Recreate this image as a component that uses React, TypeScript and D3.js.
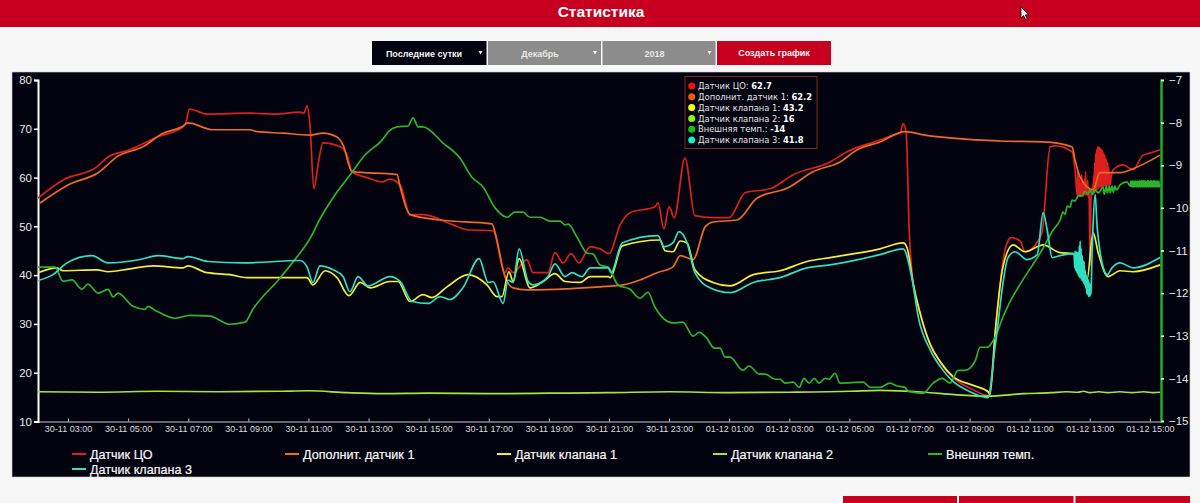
import * as d3 from 'd3';
import React, { useEffect, useRef } from 'react';

// hours since 30-11 00:00, value
const sensorCO: [number, number][] = [
	[2, 55.8], [2.83, 59.5], [3.96, 62.2], [4.33, 64.2], [5.06, 65.7], [5.96, 68.3], [6.83, 70.4], [6.93, 71.4], [7.03, 74], [7.16, 73.9],
	[7.62, 73], [9.05, 73.2], [9.89, 73], [10.72, 73.4], [10.85, 73.2], [10.95, 74.7], [11.05, 70.8], [11.18, 57.7], [11.32, 62.6], [11.48, 67.1],
	[12.12, 66.1], [12.28, 64.6], [12.45, 61.2], [12.95, 60], [13.45, 59.1], [13.71, 59.7], [14.05, 58.5], [14.38, 52.4], [14.81, 52.4], [15.81, 50.3],
	[16.28, 49.3], [17.14, 49.1], [17.54, 40.5], [17.64, 41.5], [17.81, 40.5], [18.27, 43.2], [18.47, 40.5], [18.97, 40.5], [19.2, 44.6], [19.47, 42.5],
	[19.74, 44.4], [20, 42.5], [20.37, 45.8], [20.7, 45.4], [21, 44.4], [21.37, 50.3], [21.7, 52.8], [22.53, 54], [22.63, 54.8], [22.83, 49.5],
	[23, 54], [23.17, 51.8], [23.53, 64], [23.86, 52.2], [24.46, 51.8], [25, 51.8], [25.53, 56.9], [26.36, 57.7], [27.13, 60.6], [28.36, 63.2],
	[28.92, 65.3], [30.02, 67.7], [30.45, 68.7], [30.69, 69.2], [30.79, 71], [30.89, 69.2], [30.99, 49.3], [31.12, 38.4], [31.35, 32.3], [31.69, 25.8],
	[32.02, 22.1], [32.45, 19], [33.12, 16.5], [33.62, 15.3], [33.92, 32.3], [34.18, 45.2], [34.38, 47.7], [34.68, 47], [34.85, 44.8], [35.18, 46.2],
	[35.41, 48.7], [35.68, 66.3], [35.85, 66.5], [36.41, 65.3], [36.51, 61.6],
	[36.58, 56.5], [36.6, 61.4], [36.61, 56.2], [36.63, 60.5], [36.65, 56.2], [36.66, 59.6], [36.68, 56.2], [36.7, 58.8], [36.71, 56.2], [36.73, 60.6],
	[36.75, 56.2], [36.76, 59.5], [36.78, 56.2], [36.8, 58.5], [36.81, 56.4], [36.83, 59.8], [36.85, 56.4], [36.86, 61.2], [36.88, 56.5], [36.9, 59],
	[36.91, 56.5], [36.93, 59.5], [36.95, 56], [36.96, 58], [36.98, 55.8], [37.01, 41.9], [37.04, 56.2], [37.06, 57.5], [37.08, 56.5], [37.1, 58.5],
	[37.11, 56.5], [37.13, 60.5], [37.15, 56.8], [37.16, 63], [37.18, 57], [37.2, 65], [37.21, 57.2], [37.23, 65.8], [37.25, 57.5], [37.26, 66.3],
	[37.28, 57.7], [37.3, 66.4], [37.31, 58], [37.33, 66.2], [37.35, 58], [37.36, 66], [37.38, 58], [37.4, 65.8], [37.41, 58.2], [37.43, 65.5],
	[37.45, 58.2], [37.46, 65], [37.48, 58.2], [37.5, 64.6], [37.51, 58.3], [37.53, 64], [37.55, 58.3], [37.56, 63.6], [37.58, 58.3], [37.6, 63],
	[37.61, 58.4], [37.63, 62], [37.65, 58.5], [37.66, 61], [37.68, 58.6], [37.71, 60],
	[37.78, 61.6], [38.11, 62.6], [38.44, 61.6], [38.77, 64.6], [39, 65], [39.34, 65.7],
];

const sensorExtra: [number, number][] = [
	[2.07, 54.8], [3, 58.5], [4, 61], [4.66, 64.4], [5.49, 66.3], [6.16, 69.1], [6.79, 70.4], [6.99, 71.2], [7.82, 69.8], [9.05, 69.8],
	[9.29, 69.4], [10.15, 69.1], [11.05, 68.7], [11.48, 69.1], [11.95, 68.3], [12.15, 66.7], [12.45, 61.2], [13.95, 60.6], [14.05, 58.1], [14.38, 52.4],
	[15.38, 51.3], [17.11, 50.5], [17.21, 48.7], [17.54, 39.7], [17.81, 37.4], [18.27, 37], [19.6, 37.2], [20.7, 37.6], [21.47, 38], [22.03, 39],
	[22.6, 40.5], [23.13, 41.7], [23.37, 44], [23.8, 43.2], [24.2, 49.9], [24.46, 50.9], [25.26, 51.3], [25.93, 55.8], [26.96, 57.9], [27.79, 61.2],
	[28.69, 63.2], [29.26, 65.7], [30.02, 67.3], [30.85, 69.4], [31.52, 68.7], [34.02, 67.5], [35.45, 67.3], [36.41, 66.3], [36.51, 63.6], [36.68, 60.1],
	[37.11, 57.5], [37.34, 61], [38.01, 61], [38.44, 61.8], [39.34, 64.6],
];

const valve1: [number, number][] = [
	[2, 40.5], [2.63, 41.5], [2.83, 40.9], [3.96, 41.1], [4.33, 40.7], [5.06, 41.3], [5.83, 41.9], [6.83, 41.5], [6.99, 41.9], [7.62, 40.5],
	[8.39, 40.1], [8.95, 39.5], [10.95, 39.5], [11.15, 38], [11.55, 40.9], [11.95, 39.5], [12.35, 35.8], [12.72, 38.5], [13.05, 37.4], [13.71, 38.7],
	[13.98, 38.7], [14.38, 34.6], [14.81, 36], [15.11, 35.4], [15.61, 37.6], [16.31, 40.1], [16.94, 38], [17.28, 35.6], [17.44, 35.6], [17.67, 40.7],
	[17.81, 38.7], [18.01, 43.4], [18.37, 37.4], [18.81, 38.7], [19.2, 40.3], [19.54, 38.7], [20.04, 38.5], [20.37, 39.7], [20.97, 39.7], [21.04, 39.5],
	[21.44, 46], [22.7, 47.2], [22.87, 45], [23.13, 44.8], [23.37, 47], [23.6, 46.6], [23.86, 41.1], [24.46, 38.5], [25.03, 37.8], [25.8, 40.1],
	[26.69, 40.9], [27.59, 42.8], [28.36, 43.6], [30.02, 45.4], [30.79, 46.6], [30.92, 45.6], [31.12, 38.4], [31.35, 32.3], [31.69, 25.8], [32.02, 22.3],
	[32.45, 19.2], [33.12, 17.4], [33.62, 16.1], [33.68, 15.5], [33.85, 28.2], [34.11, 41.7], [34.45, 46.2], [34.85, 44.8], [35.45, 46.2], [36.01, 44.6],
	[36.45, 44.4], [36.61, 42.1], [36.68, 39.7], [36.91, 39.1], [37.11, 48.7], [37.28, 44.6], [37.61, 39.7], [38.01, 40.9], [38.44, 40.7], [39.34, 42.1],
];

const valve2: [number, number][] = [
	[2, 16.1], [4, 16], [6, 16.2], [8, 16.1], [10, 16.2], [11, 16.3], [12.3, 15.9], [13.5, 15.7], [15, 15.8], [17, 15.7],
	[19, 15.8], [21, 15.9], [23, 16.1], [25, 15.9], [27, 16], [29, 16.2], [30, 16.4], [31.5, 16], [32.5, 15.5], [33.6, 15.2],
	[34.8, 15.7], [35.7, 15.9], [36.2, 16.1], [36.6, 16], [36.8, 16.2], [37, 15.9], [37.3, 16.1], [37.6, 15.9], [38, 16.1], [38.4, 15.9],
	[38.8, 16.1], [39.1, 15.9], [39.34, 16],
];

const outsideTemp: [number, number][] = [
	[2, -11.39], [2.57, -11.39], [2.83, -11.72], [3.13, -11.69], [3.46, -11.91], [3.66, -11.79], [4, -12], [4.33, -11.91], [4.5, -12.09], [4.66, -12],
	[5.16, -12.31], [5.56, -12.38], [5.66, -12.31], [5.89, -12.4], [6.56, -12.59], [7.06, -12.52], [7.72, -12.54], [8.39, -12.73], [8.89, -12.68], [9.15, -12.38],
	[10.05, -11.65], [10.62, -11.15], [10.72, -11.06], [11.15, -10.59], [11.28, -10.4], [11.95, -9.63], [12.38, -9.23], [12.88, -8.76], [13.45, -8.41], [13.68, -8.2],
	[13.95, -8.1], [14.31, -8.08], [14.48, -7.89], [14.65, -8.1], [14.81, -8.1], [15.48, -8.48], [16.04, -8.83], [16.44, -9.28], [16.81, -9.51], [17.21, -10],
	[17.61, -10.22], [17.87, -10.1], [18.14, -10.1], [18.37, -10.22], [18.71, -10.22], [19.04, -10.31], [19.37, -10.31], [19.54, -10.4], [19.64, -10.38], [19.94, -10.69],
	[20.27, -11.06], [20.47, -11.08], [20.7, -11.34], [20.97, -11.39], [21.3, -11.81], [21.7, -11.91], [22.03, -12.12], [22.3, -11.98], [22.53, -12.33], [23.13, -12.7],
	[23.46, -12.68], [23.8, -13.01], [24, -12.92], [24.26, -13.06], [24.5, -13.29], [24.7, -13.29], [24.86, -13.5], [25.03, -13.5], [25.46, -13.81], [25.66, -13.71],
	[26, -13.9], [26.2, -13.9], [26.53, -14.02], [26.69, -14.02], [26.86, -14.11], [27.13, -14.09], [27.33, -14.21], [27.49, -14], [27.66, -14.11], [27.83, -14],
	[27.99, -14.11], [28.19, -14], [28.32, -14.02], [28.52, -13.88], [28.69, -14.11], [29.46, -14.09], [29.69, -14.21], [30.02, -14.21], [30.35, -14.11], [30.59, -14.18],
	[30.85, -14.21], [30.95, -14.3], [31.45, -14.35], [31.79, -14.11], [32.09, -14], [32.35, -14.11], [32.62, -13.81], [32.85, -13.81], [33.18, -13.6], [33.35, -13.27],
	[33.58, -13.27], [33.85, -13.03], [34.11, -12.56], [35.45, -10.94], [35.78, -10.52], [36.01, -10.29], [36.11, -10.1], [36.18, -10.15], [36.25, -9.96], [36.35, -9.98],
	[36.41, -9.82], [36.51, -9.84], [36.61, -9.72], [36.74, -9.72], [36.84, -9.61], [36.94, -9.68], [37.01, -9.58], [37.08, -9.68], [37.18, -9.58], [37.28, -9.65],
	[37.34, -9.61], [37.44, -9.51], [37.48, -9.68], [37.55, -9.49], [37.58, -9.65], [37.65, -9.49], [37.68, -9.65], [37.74, -9.49], [37.78, -9.63], [37.84, -9.49],
	[37.88, -9.58], [37.94, -9.54], [38.01, -9.46], [38.24, -9.39], [38.34, -9.49], [38.36, -9.38], [38.38, -9.5], [38.4, -9.37], [38.41, -9.51], [38.43, -9.38],
	[38.45, -9.5], [38.46, -9.37], [38.48, -9.51], [38.5, -9.38], [38.51, -9.5], [38.53, -9.37], [38.55, -9.51], [38.56, -9.38], [38.58, -9.5], [38.6, -9.37],
	[38.61, -9.51], [38.63, -9.38], [38.65, -9.5], [38.66, -9.36], [38.68, -9.51], [38.7, -9.38], [38.71, -9.5], [38.73, -9.36], [38.75, -9.51], [38.76, -9.37],
	[38.78, -9.5], [38.8, -9.36], [38.81, -9.51], [38.83, -9.38], [38.85, -9.5], [38.86, -9.37], [38.88, -9.51], [38.9, -9.38], [38.91, -9.5], [38.93, -9.36],
	[38.95, -9.51], [38.96, -9.37], [38.98, -9.5], [39, -9.38], [39.01, -9.51], [39.03, -9.36], [39.05, -9.5], [39.06, -9.37], [39.08, -9.51], [39.1, -9.38],
	[39.11, -9.5], [39.13, -9.36], [39.15, -9.51], [39.16, -9.37], [39.18, -9.5], [39.2, -9.38], [39.21, -9.51], [39.23, -9.37], [39.25, -9.5], [39.26, -9.38],
	[39.28, -9.51], [39.3, -9.37], [39.31, -9.5], [39.34, -9.45],
];

const valve3: [number, number][] = [
	[2, 38.9], [2.5, 40.1], [2.96, 42.5], [3.8, 44], [4.33, 42.5], [5.4, 43.2], [5.99, 44], [6.83, 43.4], [6.99, 43.8], [7.66, 42.8],
	[8.82, 42.5], [10.72, 43], [10.95, 41.7], [11.15, 38.5], [11.38, 41.9], [11.82, 41.1], [12.15, 39.7], [12.38, 36.6], [12.65, 39.7], [12.98, 37.8],
	[13.71, 39.7], [14.05, 38.7], [14.45, 34.6], [14.98, 34.2], [15.38, 35.6], [15.71, 35], [16.14, 37.4], [16.68, 43.4], [16.98, 38.5], [17.14, 38.7],
	[17.48, 34.2], [17.64, 39], [17.81, 38.5], [18.01, 45.4], [18.31, 38.7], [18.47, 38], [18.97, 39.7], [19.2, 42.3], [19.54, 39.7], [19.77, 40.5],
	[20.1, 39.7], [20.37, 41.5], [20.97, 41.5], [21.07, 40.5], [21.44, 46.6], [22.63, 48.1], [22.83, 45.8], [23.13, 46.6], [23.33, 48.9], [23.6, 46.6],
	[23.86, 40.5], [24.36, 37.4], [25.03, 36.4], [25.8, 38.5], [26.69, 39.5], [27.59, 41.5], [28.36, 42.1], [30.02, 44.2], [30.79, 45.4], [31.09, 39.1],
	[31.29, 31.5], [31.69, 24.7], [32.02, 21.3], [32.45, 18.2], [33.02, 16.1], [33.62, 14.9], [33.85, 25.4], [34.28, 43.6], [34.51, 44.8], [34.91, 43.2],
	[35.25, 44.2], [35.45, 52.8], [35.58, 49.3], [35.75, 43.6], [36.01, 44], [36.45, 44.4],
	[36.48, 44], [36.5, 41.5], [36.51, 45], [36.53, 41], [36.55, 44.8], [36.56, 40.6], [36.58, 44.6], [36.6, 40.2], [36.61, 44.6], [36.63, 39.8],
	[36.65, 46], [36.66, 39.5], [36.68, 47], [36.7, 39.3], [36.71, 45.5], [36.73, 39], [36.75, 44], [36.76, 38.7], [36.78, 43], [36.8, 38.3],
	[36.81, 42.8], [36.83, 38], [36.85, 41], [36.86, 37.4], [36.88, 40.1], [36.9, 36.2], [36.91, 39.5], [36.93, 36], [36.95, 39.1], [36.96, 35.6],
	[36.98, 38.5], [37, 35.6], [37.01, 38], [37.03, 36], [37.04, 36.6],
	[37.08, 45.2], [37.11, 50.3], [37.18, 56.5], [37.24, 50.3], [37.31, 46.2], [37.41, 42.5],
	[37.58, 40.1], [37.74, 41.5], [38.01, 42.5], [38.44, 41.5], [39.34, 43.6],
];

const seriesNames = ['Датчик ЦО', 'Дополнит. датчик 1', 'Датчик клапана 1', 'Датчик клапана 2', 'Внешняя темп.', 'Датчик клапана 3'];
const seriesData = [sensorCO, sensorExtra, valve1, valve2, outsideTemp, valve3];
const lineColors = ['#dc2020', '#ee6a22', '#f4ee30', '#a6e63c', '#2cb52c', '#2ee0c0'];
const dotColors = ['#f5100c', '#f0590f', '#ffff14', '#8cf514', '#10c414', '#14f0c8'];
const hoverValues = ['62.7', '62.2', '43.2', '16', '-14', '41.8'];

const leftTicks = [10, 20, 30, 40, 50, 60, 70, 80];
const rightTicks = [-15, -14, -13, -12, -11, -10, -9, -8, -7];
const timeTicks = d3.range(3, 40, 2);
const selectLabels = ['Последние сутки', 'Декабрь', '2018'];
const buttonLabel = 'Создать график';
const titleText = 'Статистика';

const baseTime = new Date(2018, 10, 30, 0, 0).getTime();
const toDate = (h: number) => new Date(baseTime + h * 3600000);

const font = '"Liberation Sans", Arial, sans-serif';

export default function App() {
	const ref = useRef<SVGSVGElement>(null);

	useEffect(() => {
		const svg = d3.select(ref.current);
		svg.selectAll('*').remove();

		svg.append('rect').attr('width', 1200).attr('height', 503).attr('fill', '#f7f7f7');

		// header
		svg.append('rect').attr('width', 1200).attr('height', 27).attr('fill', '#c6001e');
		svg.append('text').attr('x', 601).attr('y', 17).attr('text-anchor', 'middle')
			.style('font', `bold 15.5px ${font}`).attr('fill', '#fff').text(titleText);

		// cursor
		svg.append('path')
			.attr('d', 'M1021,7 L1021,18 L1023.6,15.6 L1025.5,19.5 L1027.3,18.7 L1025.4,15 L1028.6,14.6 Z')
			.attr('fill', '#fff').attr('stroke', '#000').attr('stroke-width', 0.8);

		// controls
		const selects = [
			{ x: 372, w: 114.5, fill: '#03030f' },
			{ x: 488, w: 113, fill: '#8c8c8c' },
			{ x: 602.5, w: 113, fill: '#8c8c8c' },
		];
		selects.forEach((s, i) => {
			svg.append('rect').attr('x', s.x).attr('y', 41).attr('width', s.w).attr('height', 24).attr('fill', s.fill);
			svg.append('text').attr('x', s.x + 52).attr('y', 56.5).attr('text-anchor', 'middle')
				.style('font', `bold 9px ${font}`).attr('fill', i === 0 ? '#f4f4f4' : '#e8e8e8').text(selectLabels[i]);
			const tx = s.x + s.w - 6;
			svg.append('path').attr('d', `M${tx - 2},51 L${tx + 2},51 L${tx},54.5 Z`).attr('fill', '#fff');
		});
		svg.append('rect').attr('x', 717).attr('y', 41).attr('width', 114).attr('height', 24).attr('fill', '#c6001e');
		svg.append('text').attr('x', 774).attr('y', 56).attr('text-anchor', 'middle')
			.style('font', `bold 9px ${font}`).attr('fill', '#f4f4f4').text(buttonLabel);

		// chart panel
		svg.append('rect').attr('x', 12).attr('y', 72).attr('width', 1178).attr('height', 405)
			.attr('fill', '#03030f').attr('stroke', '#d0d0d0').attr('stroke-width', 0.6);

		// bottom buttons
		[[843, 114], [959, 114.5], [1075.5, 114.5]].forEach(([x, w]) => {
			svg.append('rect').attr('x', x).attr('y', 496).attr('width', w).attr('height', 7).attr('fill', '#c6001e');
		});

		const x = d3.scaleTime().domain([toDate(2), toDate(39.37)]).range([38, 1161]);
		const y = d3.scaleLinear().domain([10, 80]).range([421.5, 80]);
		const y2 = d3.scaleLinear().domain([-15, -7]).range([421, 80]);

		const fmt = d3.timeFormat('%d-%m %H:%M');

		const gx = svg.append('g').attr('transform', 'translate(0,421.5)')
			.call(d3.axisBottom(x).tickValues(timeTicks.map(toDate)).tickSize(0).tickPadding(4).tickFormat((d) => fmt(d as Date)));
		gx.select('.domain').attr('stroke', '#c8c8c8').attr('stroke-width', 1);
		gx.selectAll('.tick line').attr('y1', -3).attr('y2', 0).attr('stroke', '#c8c8c8');
		gx.selectAll('text').attr('fill', '#dcdcdc').style('font', `9px ${font}`);

		const gl = svg.append('g').attr('transform', 'translate(38,0)')
			.call(d3.axisLeft(y).tickValues(leftTicks).tickSize(4).tickPadding(2));
		gl.select('.domain').attr('stroke', '#fff').attr('stroke-width', 2);
		gl.selectAll('.tick line').attr('stroke', '#fff').attr('stroke-width', 1.5);
		gl.selectAll('text').attr('fill', '#e8e8e8').style('font', `11.5px ${font}`);

		const gr = svg.append('g').attr('transform', 'translate(1161,0)')
			.call(d3.axisRight(y2).tickValues(rightTicks).tickSize(3).tickPadding(5));
		gr.select('.domain').attr('stroke', '#1eb01e').attr('stroke-width', 2.5);
		gr.selectAll('.tick line').attr('stroke', '#fff').attr('stroke-width', 1.5);
		gr.selectAll('text').attr('fill', '#e8e8e8').style('font', `11.5px ${font}`);

		// series, outside temp goes on the right axis
		seriesData.forEach((rows, i) => {
			const scaleY = i === 4 ? y2 : y;
			const line = d3.line<[number, number]>()
				.x((d) => x(toDate(d[0])))
				.y((d) => scaleY(d[1]))
				.curve(d3.curveMonotoneX);
			svg.append('path').attr('d', line(rows)).attr('fill', 'none')
				.attr('stroke', lineColors[i]).attr('stroke-width', 1.7);
		});

		// legend
		const columns = [72, 285, 497, 713, 928, 72];
		seriesNames.forEach((name, i) => {
			const ly = i === 5 ? 469 : 454;
			svg.append('line').attr('x1', columns[i]).attr('x2', columns[i] + 14).attr('y1', ly).attr('y2', ly)
				.attr('stroke', lineColors[i]).attr('stroke-width', 2);
			svg.append('text').attr('x', columns[i] + 18).attr('y', ly + 4.5)
				.style('font', `12.6px ${font}`).attr('fill', '#f8f8f8').attr('stroke', '#f8f8f8').attr('stroke-width', 0.2).text(name);
		});

		// hover box
		const box = svg.append('g');
		box.append('rect').attr('x', 685).attr('y', 76.5).attr('width', 132).attr('height', 72)
			.attr('fill', '#03030f').attr('stroke', '#7c2a1c').attr('stroke-width', 1);
		seriesNames.forEach((name, i) => {
			const by = 86 + i * 10.8;
			box.append('circle').attr('cx', 691.7).attr('cy', by).attr('r', 3.5).attr('fill', dotColors[i]);
			const t = box.append('text').attr('x', 698).attr('y', by + 3.2)
				.style('font', '8.4px "DejaVu Sans", sans-serif').attr('fill', '#e4e4e4');
			t.append('tspan').text(`${name}: `);
			t.append('tspan').attr('font-weight', 'bold').attr('fill', '#fff').text(hoverValues[i]);
		});
	}, []);

	return <svg ref={ref} width={1200} height={503} style={{ position: 'absolute', left: 0, top: 0, display: 'block' }} />;
}
